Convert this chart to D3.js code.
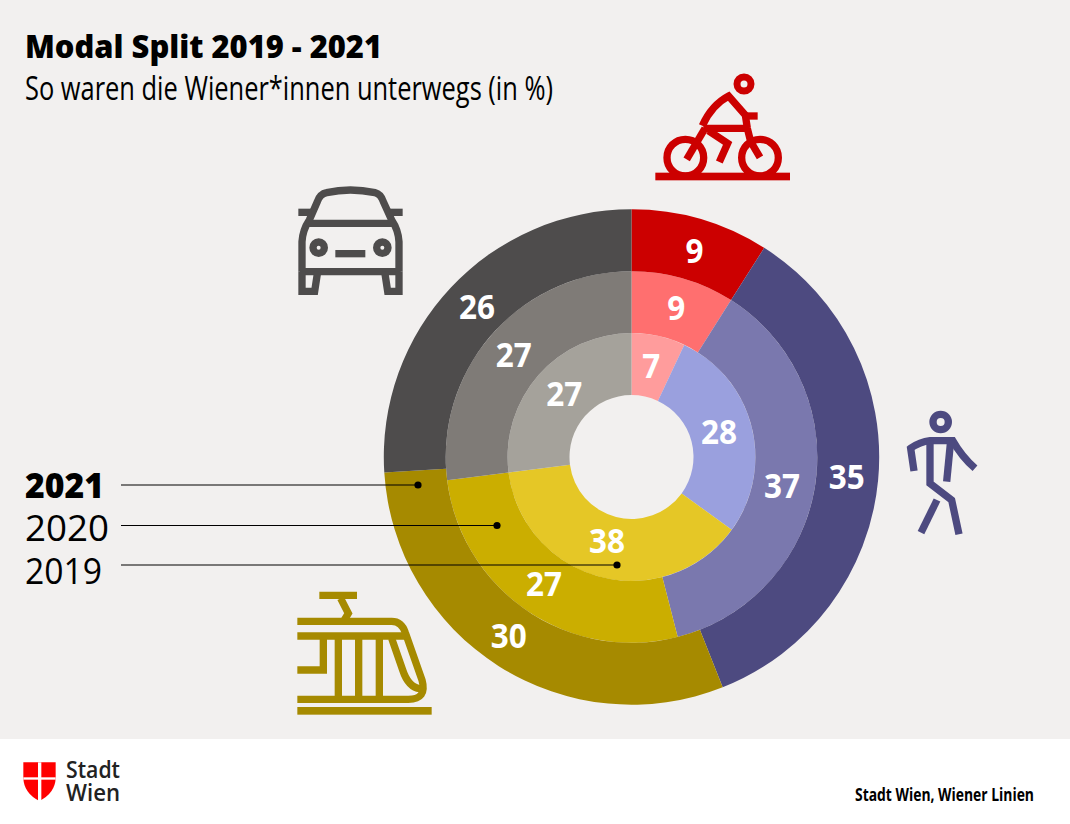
<!DOCTYPE html>
<html><head><meta charset="utf-8">
<script src="https://cdn.jsdelivr.net/npm/d3@7/dist/d3.min.js"></script>
<style>html,body{margin:0;padding:0;background:#fff}svg{display:block}text{font-family:"Open Sans",sans-serif}</style>
</head><body><svg id="c" width="1070" height="824"></svg>
<script>
const modes = ["Rad","Zu Fuß","Öffis","Auto"];
const years = ["2019","2020","2021"];
const values2019 = [7,28,38,27];
const values2020 = [9,37,27,27];
const values2021 = [9,35,30,26];
const colors2019 = ["#ff9c9c","#9aa0de","#e5c726","#a5a29b"];
const colors2020 = ["#ff6f6f","#7a78ae","#cbae00","#7f7b77"];
const colors2021 = ["#cc0000","#4d4a80","#a68a00","#4e4c4c"];
const title = "Modal Split 2019 - 2021";
const subtitle = "So waren die Wiener*innen unterwegs (in %)";
const source = "Stadt Wien, Wiener Linien";

const svg = d3.select("#c");
svg.append("rect").attr("width",1070).attr("height",739).attr("fill","#f2f0ef");

const fitText=(s,x,y,size,weight,len,fill="#000")=>svg.append("text").attr("x",x).attr("y",y)
  .attr("font-size",size).attr("font-weight",weight).attr("fill",fill)
  .attr("textLength",len).attr("lengthAdjust","spacingAndGlyphs").text(s);
fitText(title,25,58,31,800,357);
fitText(subtitle,25,100,32,400,528);

// Donut
const cx=631.5, cy=457, ringW=61.9, hole=62;
const g=svg.append("g").attr("transform",`translate(${cx},${cy})`);
const pie=d3.pie().sort(null).value(d=>d);
const labelNudges=[
  [[0,0],[-2,-2],[-1,-6],[3,-2]],
  [[2,0],[-2,5],[0,-1],[-1,0]],
  [[3,2],[0,-1],[-6,-4],[4,-2]]
];
[[values2019,colors2019],[values2020,colors2020],[values2021,colors2021]].forEach(([vals,cols],i)=>{
  const arc=d3.arc().innerRadius(hole+i*ringW).outerRadius(hole+(i+1)*ringW);
  const arcs=pie(vals);
  g.selectAll(null).data(arcs).enter().append("path").attr("d",arc).attr("fill",(d,j)=>cols[j]);
  g.selectAll(null).data(arcs).enter().append("text")
    .attr("transform",(d,j)=>{const c=arc.centroid(d);return `translate(${c[0]+labelNudges[i][j][0]-0.5},${c[1]+labelNudges[i][j][1]})`;})
    .attr("text-anchor","middle").attr("dy","0.357em")
    .attr("font-size",34).attr("font-weight",700).attr("fill","#fff")
    .attr("textLength",d=>String(d.value).length*18).attr("lengthAdjust","spacingAndGlyphs")
    .text(d=>d.value);
});

// Year legend with leader lines
const legend=[{y:"2021",ty:498,ly:485,dx:418,w:800,tl:79},{y:"2020",ty:541,ly:525.5,dx:497,w:400,tl:84},{y:"2019",ty:584,ly:565,dx:617,w:400,tl:77}];
legend.forEach(d=>{
  fitText(d.y,25,d.ty,36,d.w,d.tl);
  svg.append("line").attr("x1",121).attr("x2",d.dx).attr("y1",d.ly).attr("y2",d.ly).attr("stroke","#000").attr("stroke-width",1.2);
  svg.append("circle").attr("cx",d.dx).attr("cy",d.ly).attr("r",3.6).attr("fill","#000");
});

// Icons (drawn in zoomed 3x units)
function icon(x,y,color,paths,circles,rects){
  const n=svg.append("g").attr("transform",`translate(${x},${y}) scale(${1/3})`)
    .attr("fill","none").attr("stroke",color).attr("stroke-width",22);
  paths.forEach(p=>n.append("path").attr("d",p));
  (circles||[]).forEach(c=>n.append("circle").attr("cx",c[0]).attr("cy",c[1]).attr("r",c[2]).attr("stroke-width",c[3]||22));
  (rects||[]).forEach(r=>n.append("rect").attr("x",r[0]).attr("y",r[1]).attr("width",r[2]).attr("height",r[3]).attr("fill",color).attr("stroke","none"));
}
icon(640,60,"#cc0000",[
  "M187,197 Q215,135 266,108 L316,165 L322,205 L332,245 L360,292",
  "M315,168 L353,168","M190,205 L322,205","M195,205 L140,298","M205,212 L263,250 L238,306"
],[[136,293,55],[360,293,55],[312,72,21,21]],[[46,338,404,23]]);
icon(280,170,"#4e4c4c",[
  "M66,305 L66,215 Q68,180 88,150 L112,95 Q120,72 140,68 Q210,52 285,68 Q302,72 310,95 L335,150 Q355,180 357,215 L357,305",
  "M55,127 L95,127","M328,127 L368,127","M80,160 L345,160","M60,305 L362,305",
  "M66,305 L66,364 L104,364 L113,305","M357,305 L357,364 L323,364 L314,305"
],[[116,233,17,22],[307,233,17,22]],[[166,240,90,22]]);
icon(890,400,"#4d4a80",[
  "M72,213 L62,145 Q90,125 120,122 L188,122 Q215,170 255,205",
  "M120,122 L120,250 L185,300 L207,403","M182,122 L170,245","M141,300 L93,398"
],[[152,66,23,22]]);
icon(280,580,"#a68a00",[
  "M118,46 L231,46","M182,55 L205,100 L190,125",
  "M52,124 L335,124 Q365,124 376,158 L426,300 Q442,358 385,358 L52,358",
  "M52,168 L372,168","M130,170 L130,270 L52,270",
  "M175,170 L175,358","M236,170 L236,358","M298,170 L298,358",
  "M335,175 L368,270 Q385,322 420,326"
],[],[[52,381,403,23]]);

// Footer
const shield=svg.append("g").attr("transform","translate(0,740) scale(0.3333)");
shield.append("path").attr("fill","#ff0000").attr("d","M70,67 L167,67 L167,115 Q165,160 118,183 Q72,160 70,115 Z");
shield.append("rect").attr("x",114).attr("y",67).attr("width",10).attr("height",117).attr("fill","#fff");
shield.append("rect").attr("x",70).attr("y",112).attr("width",97).attr("height",7).attr("fill","#fff");
fitText("Stadt",66,778,24,600,54,"#222");
fitText("Wien",66,801,24,600,54,"#222");
fitText(source,855,801,17,700,179);
</script></body></html>
